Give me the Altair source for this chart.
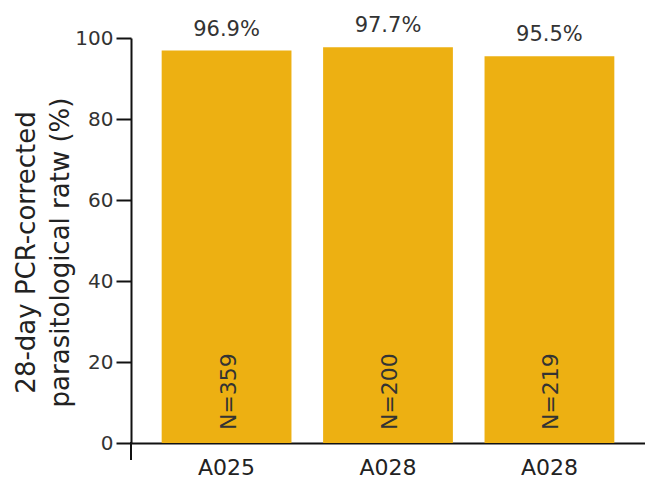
import json
import altair as alt
import pandas as pd

labels = ["A025", "A028", "A028"]
rates = [96.9, 97.7, 95.5]
rate_text = ["96.9%", "97.7%", "95.5%"]
n_text = ["N=359", "N=200", "N=219"]

df = pd.DataFrame({
    "idx": list(range(len(labels))),
    "rate": rates,
    "rate_text": rate_text,
    "n_text": n_text,
})

FONT = "DejaVu Sans"
BAR = "#EDB012"

label_expr = json.dumps(labels) + "[datum.value]"

x = alt.X("idx:O", scale=alt.Scale(paddingInner=0.196, paddingOuter=0.19),
          axis=alt.Axis(title=None, labelExpr=label_expr, labelAngle=0, ticks=False,
                        labelFontSize=22, labelColor="#222", labelFont=FONT, labelPadding=14,
                        domainColor="#111", domainWidth=2))
y = alt.Y("rate:Q", scale=alt.Scale(domain=[0, 100], nice=False),
          axis=alt.Axis(title=["28-day PCR-corrected", "parasitological ratw (%)"],
                        values=[0, 20, 40, 60, 80, 100], grid=False,
                        tickSize=15, tickWidth=2, tickColor="#111",
                        domainColor="#111", domainWidth=2,
                        labelFontSize=20, labelColor="#333", labelFont=FONT, labelPadding=3,
                        titleFontSize=26, titleFont=FONT, titleFontWeight="normal",
                        titleColor="#222", titleLineHeight=34,
                        titleX=-92, titleY=214, titleBaseline="bottom", titleAlign="center",
                        titleAngle=270))

base = alt.Chart(df)
bars = base.mark_bar(color=BAR).encode(x=x, y=y)
top = base.mark_text(font=FONT, fontSize=21, color="#333", baseline="alphabetic", dy=-15).encode(
    x="idx:O", y="rate:Q", text="rate_text:N")
nlab = base.mark_text(font=FONT, fontSize=22, color="#333", angle=270, align="left",
                      baseline="middle", dy=2).encode(
    x="idx:O", y=alt.datum(3.2), text="n_text:N")
ext = alt.Chart(pd.DataFrame({"a": [0]})).mark_rule(color="#111", strokeWidth=2, clip=False).encode(
    x=alt.value(0), y=alt.value(404), y2=alt.value(422))

chart = alt.layer(bars, top, nlab, ext).properties(
    width=514, height=405,
    autosize=alt.AutoSizeParams(type="none"),
    padding={"left": 131, "top": 38, "right": 0, "bottom": 39},
).configure_view(stroke=None)

chart.save("out.html", embed_options={"renderer": "svg", "actions": False})
